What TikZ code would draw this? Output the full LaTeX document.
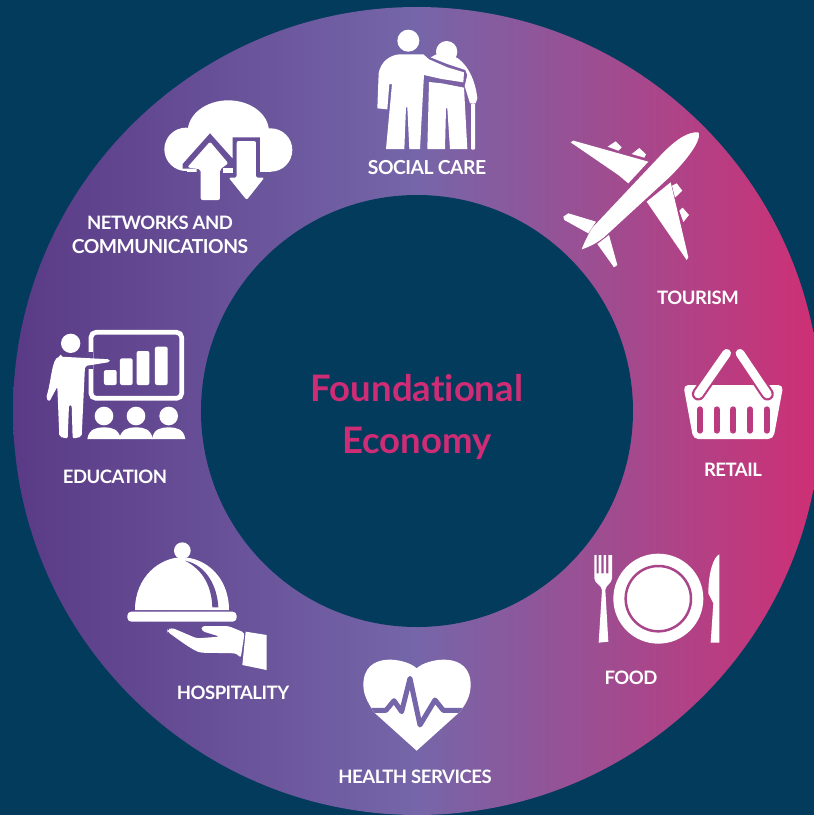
\documentclass[tikz,border=0pt]{standalone}
\usepackage{fontspec}
\setmainfont[LetterSpace=-2.5]{Lato}
\newfontfamily\ttlfont[Ligatures=NoCommon]{Lato}
\definecolor{bgc}{HTML}{033B5C}
\definecolor{gl}{HTML}{5A3A86}
\definecolor{gm}{HTML}{7566A9}
\definecolor{gr}{HTML}{CF2F74}
\definecolor{titlec}{HTML}{CE2C74}
\tikzset{
 lab/.style={text=white,font=\fontsize{18.5}{20}\selectfont\bfseries,inner sep=0pt,align=center},
 labwide/.style={lab,font=\fontsize{19.3}{20}\selectfont\bfseries},
 ttl/.style={text=titlec,font=\ttlfont\fontsize{36.5}{40}\selectfont\bfseries,inner sep=0pt,anchor=base},
 wf/.style={fill=white,draw=none},
 zoomA/.style={shift={(360,20)},scale=1/3},
 zoomB/.style={shift={(30,90)},scale=1/3},
 zoomC/.style={shift={(110,530)},scale=1/3},
 zoomD/.style={shift={(580,340)},scale=1/3},
}
\begin{document}
\begin{tikzpicture}[x=1pt,y=-1pt]
\clip (0,0) rectangle (814,815);
\fill[bgc] (0,0) rectangle (814,815);
\shade[left color=gl,right color=gr,middle color=gm] (417,411) circle[radius=404];
\fill[bgc] (417,411) circle[radius=216];
% social care
\begin{scope}[zoomA]
\fill[wf] (145,62) circle[radius=33];
\fill[wf] (260,95) circle[radius=32];
\fill[wf] (118,103) -- (190,103) -- (207,118) -- (262,142) -- (312,157) -- (310,187) -- (245,177) -- (192,165) -- (190,200) -- (180,387) -- (148,387) -- (142,262) -- (138,262) -- (133,387) -- (78,387) -- (96,192) -- (88,192) -- (82,268) -- (52,265) -- (56,160) .. controls (62,125) and (90,105) .. (118,103) -- cycle;
\fill[wf] (212,112) -- (235,100) -- (285,110) .. controls (315,125) and (345,170) .. (352,235) -- (347,250) -- (330,250) -- (314,198) -- (322,165) -- (316,150) -- (262,132) -- cycle;
\fill[wf] (207,186) -- (245,190) -- (312,203) -- (322,387) -- (270,387) -- (262,265) -- (258,265) -- (255,387) -- (202,387) -- cycle;
\fill[wf,rounded corners=1pt] (333,250) rectangle (345,389);
% aeroplane
\fill[wf] (1015,337) .. controls (985,335) and (950,355) .. (900,408) -- (700,620) .. controls (685,640) and (672,670) .. (665,688) .. controls (690,680) and (720,665) .. (745,640) -- (930,470) .. controls (985,415) and (1020,365) .. (1017,342) -- cycle;
\fill[wf] (632,367) -- (640,362) -- (865,425) -- (805,490) -- (775,465) -- cycle;
\fill[wf] (743,380) -- (767,364) -- (785,382) -- (775,392) -- cycle;
\fill[wf] (815,402) -- (838,384) -- (858,403) -- (853,413) -- cycle;
\fill[wf] (932,487) -- (985,712) -- (980,720) -- (860,545) -- cycle;
\fill[wf] (936,497) -- (950,490) -- (967,512) -- (945,533) -- cycle;
\fill[wf] (958,572) -- (968,563) -- (987,585) -- (970,606) -- cycle;
\fill[wf] (610,590) -- (625,580) -- (708,605) -- (685,640) -- (613,600) -- cycle;
\fill[wf] (712,672) -- (747,645) -- (772,735) -- (762,742) -- cycle;
\end{scope}
% cloud
\begin{scope}[zoomB]
\fill[wf] (468,178) circle[radius=65];
\fill[wf] (595,125) ellipse[x radius=122,y radius=94];
\fill[wf] (722,180) circle[radius=65];
\fill[wf] (470,150) rectangle (722,245);
\fill[gl!47!gm] (540,130) -- (622,222) -- (608,222) -- (608,142) -- (690,142) -- (690,256) -- (608,256) -- (500,256) -- (500,236) -- (458,236) -- (458,222) -- cycle;
\fill[wf,rounded corners=2pt] (540,155) -- (595,220) -- (570,238) -- (570,330) -- (512,330) -- (512,238) -- (472,232) -- cycle;
\fill[wf,rounded corners=2pt] (620,153) -- (678,153) -- (678,263) -- (703,263) -- (650,330) -- (596,263) -- (620,263) -- cycle;
\fill[wf] (578,233) rectangle (610,248);
% education
\draw[white,line width=4.7pt,rounded corners=5pt] (183,727) rectangle (455,925);
\fill[gl!73!gm] (168,785) rectangle (190,838);
\fill[wf] (122,760) circle[radius=29];
\fill[wf,rounded corners=2pt] (92,800) -- (240,808) -- (240,816) -- (165,828) -- (155,1040) -- (128,1046) -- (125,945) -- (117,945) -- (113,1046) -- (88,1040) -- (82,890) -- (58,935) -- (48,925) .. controls (65,870) and (65,805) .. (92,800) -- cycle;
\foreach \xa/\xb/\yt in {222/260/840,270/308/805,320/358/783,375/413/770}{
 \fill[wf,rounded corners=2pt] (\xa,\yt) rectangle (\xb,885);}
\foreach \cx in {222,318,416}{
 \fill[wf] (\cx,978) circle[radius=28];
 \fill[wf] (\cx-50,1047) .. controls (\cx-45,1015) and (\cx-20,1012) .. (\cx,1012) .. controls (\cx+20,1012) and (\cx+45,1015) .. (\cx+50,1047) -- cycle;}
\end{scope}
% hospitality and heart
\begin{scope}[zoomC]
\fill[wf] (217,62) circle[radius=25];
\fill[wf] (75,240) .. controls (75,140) and (150,82) .. (216,82) .. controls (285,82) and (357,140) .. (357,240) -- cycle;
\fill[gl!53!gm] (225,92) .. controls (280,120) and (305,170) .. (307,232) -- (325,232) .. controls (322,170) and (290,105) .. (225,92) -- cycle;
\fill[wf,rounded corners=4pt] (52,245) rectangle (380,275);
\fill[wf,rounded corners=3pt] (172,300) -- (185,293) -- (260,325) -- (330,320) -- (275,303) -- (275,288) -- (355,288) -- (404,308) -- (392,385) -- (380,370) -- (270,368) .. controls (240,355) and (200,325) .. (172,305) -- cycle;
\fill[wf] (407,305) -- (470,315) -- (470,420) -- (397,405) -- cycle;
\fill[wf] (920,415) .. controls (890,385) and (760,360) .. (760,465) .. controls (760,500) and (780,525) .. (790,545) -- (920,662) -- (1050,545) .. controls (1065,525) and (1082,500) .. (1082,465) .. controls (1082,360) and (950,385) .. (920,415) -- cycle;
\begin{scope}
\clip (920,415) .. controls (890,385) and (760,360) .. (760,465) .. controls (760,500) and (780,525) .. (790,545) -- (920,662) -- (1050,545) .. controls (1065,525) and (1082,500) .. (1082,465) .. controls (1082,360) and (950,385) .. (920,415) -- cycle;
\draw[gm,line width=5pt,line join=round,line cap=round] (750,541) -- (828,541) -- (852,512) -- (875,545) -- (900,445) -- (930,585) -- (975,510) -- (1000,541) -- (1090,541);
\end{scope}
\end{scope}
% retail and food
\begin{scope}[zoomD]
\fill[wf,rounded corners=5pt] (310,135) -- (610,135) -- (580,297) -- (340,297) -- cycle;
\begin{scope}
\clip (300,130) rectangle (620,300);
\draw[gr!75!gm,line width=13pt,line cap=round] (440,40) -- (355,162) (480,40) -- (562,162);
\end{scope}
\draw[white,line width=8.7pt,line cap=round] (440,40) -- (355,162) (480,40) -- (562,162);
\foreach \sx in {360,410,460,510,560}{
 \draw[gr!78!gm,line width=6pt,line cap=round] (\sx,208) -- (\sx,272);}
\fill[wf] (235,776) circle[radius=135];
\draw[gr!58!gm,line width=2.5pt] (235,776) circle[radius=98];
\fill[wf] (43,645) -- (50,645) -- (50,700) -- (56,700) -- (56,645) -- (64,645) -- (64,700) -- (71,700) -- (71,645) -- (78,645) -- (78,700) -- (85,700) -- (85,645) -- (96,645) -- (96,715) .. controls (96,730) and (77,735) .. (76,750) -- (85,905) -- (56,908) -- (66,750) .. controls (65,735) and (43,730) .. (43,715) -- cycle;
\fill[wf] (418,643) -- (418,908) -- (392,908) -- (400,790) -- (385,760) .. controls (385,700) and (400,650) .. (418,643) -- cycle;
\end{scope}
% texts
\node[labwide] (social) at (427,168) {SOCIAL CARE};
\node[lab] (tourism) at (698,298) {TOURISM};
\node[lab] (retail) at (733,470) {RETAIL};
\node[lab] (food) at (631,678) {FOOD};
\node[lab] (health) at (415,777) {HEALTH SERVICES};
\node[lab] (hosp) at (233,693) {HOSPITALITY};
\node[lab] (edu) at (115,477) {EDUCATION};
\node[lab] (net1) at (160,223) {NETWORKS AND};
\node[labwide] (net2) at (160,247) {COMMUNICATIONS};
\node[ttl] (found) at (417,401) {Foundational};
\node[ttl] (econ) at (417,453) {Economy};
\end{tikzpicture}
\end{document}
